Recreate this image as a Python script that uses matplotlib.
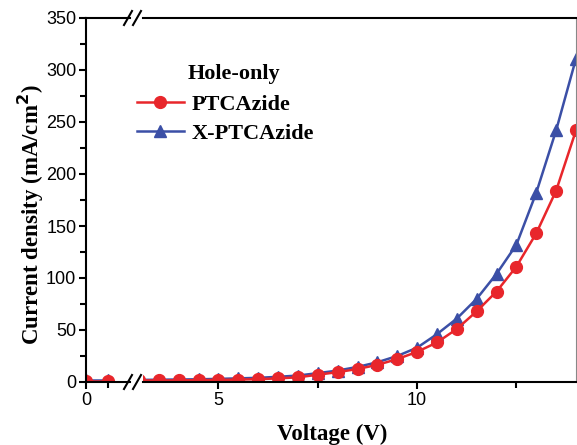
import matplotlib.pyplot as plt
from matplotlib.ticker import MultipleLocator, FixedLocator

# voltage before the axis break
v_low = [0, 0.5]
j_red_low = [1.0, 1.0]
j_blue_low = [1.5, 1.5]

# voltage after the axis break
v = [3.0, 3.5, 4.0, 4.5, 5.0, 5.5, 6.0, 6.5, 7.0, 7.5, 8.0, 8.5,
     9.0, 9.5, 10.0, 10.5, 11.0, 11.5, 12.0, 12.5, 13.0, 13.5, 14.0]
j_ptcazide = [1.5, 1.5, 1.6, 1.8, 2.0, 2.3, 2.7, 3.5, 4.5, 7.0, 9.5, 12.5,
              16.5, 22, 29, 38, 51, 68, 87, 111, 143, 184, 242]
j_xptcazide = [2.0, 2.2, 2.4, 2.6, 3.0, 3.5, 4.0, 5.0, 6.2, 8.5, 11, 14.5,
               19, 25, 33, 46, 61, 80, 104, 132, 182, 242, 311]

red = '#e8262b'
blue = '#3b4fa6'
serif_bold = dict(family='Liberation Serif', weight='bold')

fig = plt.figure(figsize=(5.77, 4.45), dpi=100)
W, H = 577, 445
def box(x0, x1, y0, y1):
    return [x0 / W, 1 - y1 / H, (x1 - x0) / W, (y1 - y0) / H]

ax1 = fig.add_axes(box(86, 130, 18, 382))
ax2 = fig.add_axes(box(143, 576, 18, 382), sharey=ax1)

style = dict(lw=1.8)
for ax, x, r, b in [(ax1, v_low, j_red_low, j_blue_low),
                    (ax2, v, j_ptcazide, j_xptcazide)]:
    ax.plot(x, b, '-^', color=blue, ms=9, **style)
    ax.plot(x, r, '-o', color=red, ms=8.5, **style)

ax1.set_xlim(0, 1.0)
ax2.set_xlim(3.1, 14.0)
ax1.set_ylim(0, 350)

ax1.yaxis.set_major_locator(MultipleLocator(50))
ax1.yaxis.set_minor_locator(MultipleLocator(25))
ax1.xaxis.set_major_locator(FixedLocator([0]))
ax1.xaxis.set_minor_locator(FixedLocator([0.5]))
ax2.xaxis.set_major_locator(FixedLocator([5, 10]))
ax2.xaxis.set_minor_locator(FixedLocator([7.5, 12.5]))

for ax in (ax1, ax2):
    for s in ax.spines.values():
        s.set_linewidth(1.5)
    ax.tick_params(which='major', direction='out', length=5, width=1.5,
                   labelsize=13, pad=2)
    ax.tick_params(which='minor', direction='out', length=4, width=1.5)
    for lab in ax.get_xticklabels() + ax.get_yticklabels():
        lab.set_family('Liberation Sans')

ax1.spines['right'].set_visible(False)
ax2.spines['left'].set_visible(False)
ax2.spines['right'].set_linewidth(0.8)
ax2.spines['right'].set_color('#888888')
ax2.tick_params(axis='y', which='both', left=False, labelleft=False)

# break marks on the top and bottom axis lines
for yp in (18, 382):
    for xp in (128, 137):
        fig.add_artist(plt.Line2D([(xp - 4) / W, (xp + 4) / W],
                                  [1 - (yp + 7) / H, 1 - (yp - 7) / H],
                                  color='black', lw=1.5))

ax1.set_ylabel('Current density (mA/cm$^\\mathbf{2}$)', fontsize=16.5,
               labelpad=4, **serif_bold)
ax1.yaxis.set_label_coords(-0.92, 0.46)
fig.text(332 / W, 1 - 434 / H, 'Voltage (V)', ha='center', va='center',
         fontsize=16.5, **serif_bold)

fig.text(188 / W, 1 - 74 / H, 'Hole-only', ha='left', va='center',
         fontsize=16, **serif_bold)
h_red, = ax2.plot([], [], '-o', color=red, ms=8.5, lw=1.8)
h_blue, = ax2.plot([], [], '-^', color=blue, ms=9, lw=1.8)
fig.legend([h_red, h_blue], ['PTCAzide', 'X-PTCAzide'],
           loc='upper left', bbox_to_anchor=(137 / W, 1 - 94 / H),
           frameon=False, borderpad=0, borderaxespad=0,
           handlelength=2.1, handletextpad=0.35, labelspacing=0.4,
           prop=dict(family='Liberation Serif', weight='bold', size=16))

fig.savefig('out.png', dpi=100)
